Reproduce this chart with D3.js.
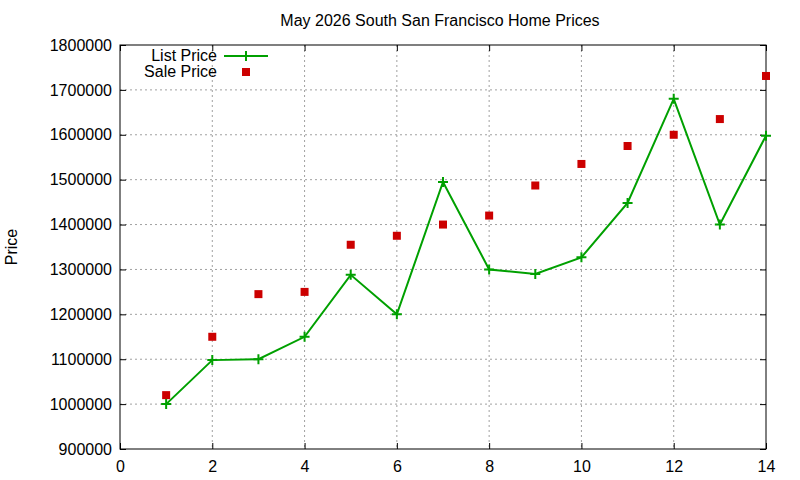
<!DOCTYPE html>
<html><head><meta charset="utf-8">
<script src="https://cdn.jsdelivr.net/npm/d3@7"></script>
<style>body{margin:0;background:#fff}text{font-family:"Liberation Sans",Arial,sans-serif;font-size:16px}</style>
</head><body><svg id="c" width="800" height="480"></svg>
<script>
const months=[1,2,3,4,5,6,7,8,9,10,11,12,13,14];
const listPrice=[1000000,1098000,1100000,1150000,1288000,1200000,1495000,1300000,1290000,1327000,1448000,1680000,1400000,1598000];
const salePrice=[1020000,1150000,1245000,1250000,1355000,1375000,1400000,1420000,1487000,1535000,1575000,1600000,1635000,1731000];
const xTicks=[0,2,4,6,8,10,12,14];
const yTicks=[900000,1000000,1100000,1200000,1300000,1400000,1500000,1600000,1700000,1800000];
const title="May 2026 South San Francisco Home Prices";

const svg=d3.select("#c");
const L=120,R=766,T=45,B=449;
const x=d3.scaleLinear().domain([0,14]).range([L,R]);
const y=d3.scaleLinear().domain([900000,1800000]).range([B,T]);
const g=svg.append("g");
yTicks.slice(1,-1).forEach(v=>g.append("line").attr("x1",L).attr("x2",R).attr("y1",y(v)).attr("y2",y(v)).attr("stroke","#a0a0a0").attr("stroke-dasharray","2,3"));
xTicks.slice(1,-1).forEach(v=>g.append("line").attr("y1",T).attr("y2",B).attr("x1",x(v)).attr("x2",x(v)).attr("stroke","#a0a0a0").attr("stroke-dasharray","2,3"));
svg.append("g").attr("transform",`translate(0,${B})`).call(d3.axisBottom(x).tickValues(xTicks).tickSize(-6).tickPadding(12));
svg.append("g").attr("transform",`translate(${L},0)`).call(d3.axisLeft(y).tickValues(yTicks).tickFormat(d3.format("d")).tickSize(-6).tickPadding(8));
svg.append("g").attr("transform",`translate(0,${T})`).call(d3.axisTop(x).tickValues(xTicks).tickSize(-6).tickFormat(""));
svg.append("g").attr("transform",`translate(${R},0)`).call(d3.axisRight(y).tickValues(yTicks).tickSize(-6).tickFormat(""));
svg.selectAll(".domain").remove();
svg.selectAll(".tick text").attr("fill","#000").style("font-size","16px");
svg.append("rect").attr("x",L).attr("y",T).attr("width",R-L).attr("height",B-T).attr("fill","none").attr("stroke","#000");
svg.append("text").attr("x",440).attr("y",26).attr("text-anchor","middle").text(title);
svg.append("text").attr("transform","translate(17,247) rotate(-90)").attr("text-anchor","middle").text("Price");
const green="#00a000";
svg.append("path").datum(months).attr("fill","none").attr("stroke",green).attr("stroke-width",2)
 .attr("d",d3.line().x(d=>x(d)).y((d,i)=>y(listPrice[i])));
const plus=(px,py)=>{svg.append("path").attr("d",`M${px-5},${py}H${px+5}M${px},${py-5}V${py+5}`).attr("stroke",green).attr("stroke-width",2);};
months.forEach((m,i)=>plus(x(m),y(listPrice[i])));
months.forEach((m,i)=>svg.append("rect").attr("x",x(m)-4).attr("y",y(salePrice[i])-4).attr("width",8).attr("height",8).attr("fill","#cc0000"));
svg.append("text").attr("x",217).attr("y",61).attr("text-anchor","end").text("List Price");
svg.append("line").attr("x1",224).attr("x2",268).attr("y1",56).attr("y2",56).attr("stroke",green).attr("stroke-width",2);
plus(246,56);
svg.append("text").attr("x",217).attr("y",77).attr("text-anchor","end").text("Sale Price");
svg.append("rect").attr("x",242).attr("y",68).attr("width",8).attr("height",8).attr("fill","#cc0000");
</script></body></html>
